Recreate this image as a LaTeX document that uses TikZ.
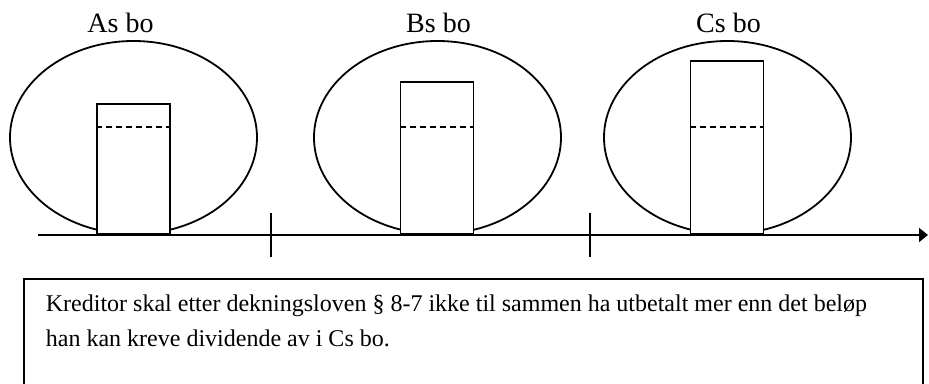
\documentclass[tikz,border=0pt]{standalone}
\usepackage{fontspec}
\setmainfont{Liberation Serif}
\usetikzlibrary{arrows.meta,positioning,shapes.geometric}

\begin{document}
\begin{tikzpicture}[x=1pt, y=-1pt, line width=1.8pt,
        every node/.style={font=\fontsize{28}{30}\selectfont},
        bo/.style={draw, ellipse, minimum width=247pt, minimum height=193pt, inner sep=0pt},
        krav/.style={draw, fill=white, rectangle, minimum width=73pt, inner sep=0pt, anchor=south},
        skille/.style={dash pattern=on 6pt off 4pt, line width=1.5pt}]

                \useasboundingbox (0,0) rectangle (929,383);
                \clip (0,0) rectangle (929,383);

                \node[bo] (boA) at (133.5,137.5) {};
                \node[bo] (boB) at (437.5,137.5) {};
                \node[bo] (boC) at (727.5,137.5) {};

                \node[anchor=base] (navnA) at (120.5,32) {As bo};
                \node[anchor=base] (navnB) at (438.5,32) {Bs bo};
                \node[anchor=base] (navnC) at (728.5,32) {Cs bo};

                \node[krav, minimum height=130pt] (kravA) at (133.5,235) {};
                \node[krav, minimum height=152pt] (kravB) at (437,235) {};
                \node[krav, minimum height=173pt] (kravC) at (727,235) {};

                \draw[skille] (kravA.west |- 0,127) -- (kravA.east |- 0,127);
                \draw[skille] (kravB.west |- 0,127) -- (kravB.east |- 0,127);
                \draw[skille] (kravC.west |- 0,127) -- (kravC.east |- 0,127);

                % tidslinje
                \coordinate (start) at (38,235);
                \coordinate (slutt) at (928,235);
                \draw[-{Triangle[length=9pt,width=14pt]}] (start) -- (slutt);
                \coordinate (t1) at (271,213);
                \coordinate (t2) at (590,213);
                \draw (t1) -- ++(0,44);
                \draw (t2) -- ++(0,44);

                \draw (24,420) |- (923,279) -- (923,420);
                \node[anchor=base west, align=left, inner sep=0pt,
                      font=\fontsize{24}{35.7}\selectfont] (tekst) at (45,346.7)
                     {Kreditor skal etter dekningsloven § 8-7 ikke til sammen ha utbetalt mer enn det beløp\\
                      han kan kreve dividende av i Cs bo.};
            \end{tikzpicture}
\end{document}
